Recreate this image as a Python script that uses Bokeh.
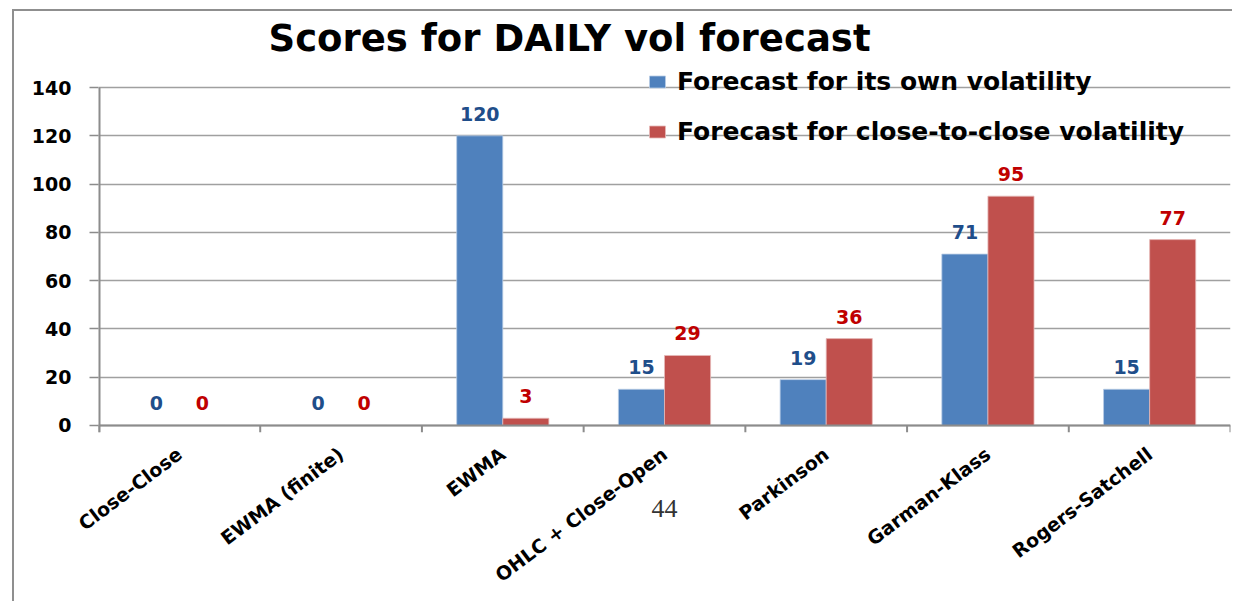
from bokeh.plotting import figure
from bokeh.layouts import column
from bokeh.models import (FactorRange, Range1d, ColumnDataSource, LabelSet, Label,
                          Legend, LegendItem, FixedTicker)
from bokeh.core.properties import value
from bokeh.transform import dodge
from bokeh.embed import file_html
from bokeh.resources import INLINE

categories = ["Close-Close", "EWMA (finite)", "EWMA", "OHLC + Close-Open",
              "Parkinson", "Garman-Klass", "Rogers-Satchell"]
own_vol = [0, 0, 120, 15, 19, 71, 15]
c2c_vol = [0, 0, 3, 29, 36, 95, 77]
y_ticks = [0, 20, 40, 60, 80, 100, 120, 140]
series_names = ["Forecast for its own volatility", "Forecast for close-to-close volatility"]
title_text = "Scores for DAILY vol forecast"
page_number = "44"

BLUE = "#4F81BD"
RED = "#C0504D"
BLUE_TXT = "#1F4E8A"
RED_TXT = "#C00000"
GRID = "#a0a0a0"
AXIS = "#8c8c8c"
FONT = "DejaVu Sans"

y_start = -2.9
y_end = 171.5   # room above the 140 gridline for the title and legend

src = ColumnDataSource(dict(
    cat=categories,
    own=own_vol,
    c2c=c2c_vol,
    own_txt=[str(v) for v in own_vol],
    c2c_txt=[str(v) for v in c2c_vol],
))

p = figure(x_range=FactorRange(*categories, range_padding=0, factor_padding=0),
           y_range=Range1d(y_start, y_end),
           width=1218, height=590, output_backend="svg", toolbar_location=None,
           min_border_left=84, min_border_right=2, min_border_top=0,
           min_border_bottom=169)
p.outline_line_color = None

bw = 0.285
off = 0.1425
r_own = p.vbar(x=dodge("cat", -off, range=p.x_range), top="own", width=bw, source=src,
               fill_color=BLUE, line_color="#b8cce4", line_width=0.8)
r_c2c = p.vbar(x=dodge("cat", off, range=p.x_range), top="c2c", width=bw, source=src,
               fill_color=RED, line_color="#e6b9b8", line_width=0.8)

nb = len(categories) + 1
# category axis line at zero and boundary ticks below it
p.segment(x0=[0], x1=[nb - 1], y0=[0], y1=[0], line_color=AXIS, line_width=2)
p.segment(x0=list(range(nb)), x1=list(range(nb)), y0=[0] * nb, y1=[y_start] * nb,
          line_color=AXIS, line_width=2)
# value-axis line, from the bottom of the range up to the last tick
p.segment(x0=[0], x1=[0], y0=[y_start], y1=[y_ticks[-1]], line_color=AXIS, line_width=4)

for col, txt, dx, colr in (("own", "own_txt", -off, BLUE_TXT), ("c2c", "c2c_txt", off, RED_TXT)):
    p.add_layout(LabelSet(x=dodge("cat", dx, range=p.x_range), y=col, text=txt, source=src,
                          text_align="center", text_baseline="alphabetic", y_offset=15,
                          text_font=value(FONT), text_font_style="bold",
                          text_font_size="19px", text_color=colr))

# axes
p.xgrid.grid_line_color = None
p.ygrid.ticker = FixedTicker(ticks=y_ticks)
p.ygrid.grid_line_color = GRID
p.ygrid.grid_line_width = 1.5

p.yaxis.ticker = FixedTicker(ticks=y_ticks)
p.yaxis.axis_line_color = None
p.yaxis.major_tick_line_color = AXIS
p.yaxis.major_tick_line_width = 1.5
p.yaxis.major_tick_in = 0
p.yaxis.major_tick_out = 9
p.yaxis.minor_tick_line_color = None
p.yaxis.major_label_standoff = 18
p.yaxis.major_label_text_font = FONT
p.yaxis.major_label_text_font_style = "bold"
p.yaxis.major_label_text_font_size = "19px"
p.yaxis.major_label_text_color = "black"

p.xaxis.axis_line_color = None
p.xaxis.major_tick_line_color = None
p.xaxis.major_label_orientation = 0.645
p.xaxis.major_label_standoff = 13
p.xaxis.major_label_text_font = FONT
p.xaxis.major_label_text_font_style = "bold"
p.xaxis.major_label_text_font_size = "19px"
p.xaxis.major_label_text_color = "black"
# page number of the source slide, set as the axis label under the categories
p.xaxis.axis_label = page_number
p.xaxis.axis_label_standoff = -98
p.xaxis.axis_label_text_font = "Liberation Serif"
p.xaxis.axis_label_text_font_style = "normal"
p.xaxis.axis_label_text_font_size = "26px"
p.xaxis.axis_label_text_color = "#333333"

# title (screen position relative to the plot frame)
title = Label(x=170, y=394, x_units="screen", y_units="screen", text=title_text,
              text_baseline="alphabetic", text_font=FONT, text_font_style="bold",
              text_font_size="37px", text_color="black")
p.add_layout(title)

legend = Legend(items=[LegendItem(label=series_names[0], renderers=[r_own]),
                       LegendItem(label=series_names[1], renderers=[r_c2c])],
                location=(549, 286))
legend.border_line_color = None
legend.background_fill_alpha = 0
legend.label_text_font = FONT
legend.label_text_font_style = "bold"
legend.label_text_font_size = "25px"
legend.label_text_color = "black"
legend.glyph_width = 20
legend.glyph_height = 15
legend.label_standoff = 10
legend.padding = 0
legend.margin = 0
legend.spacing = 21
p.add_layout(legend)

page = column(p, styles={"margin-left": "12px", "margin-top": "9px",
                         "border-left": "2px solid #8f8f8f",
                         "border-top": "2px solid #8f8f8f"})

open("out.html", "w").write(file_html(page, INLINE))
